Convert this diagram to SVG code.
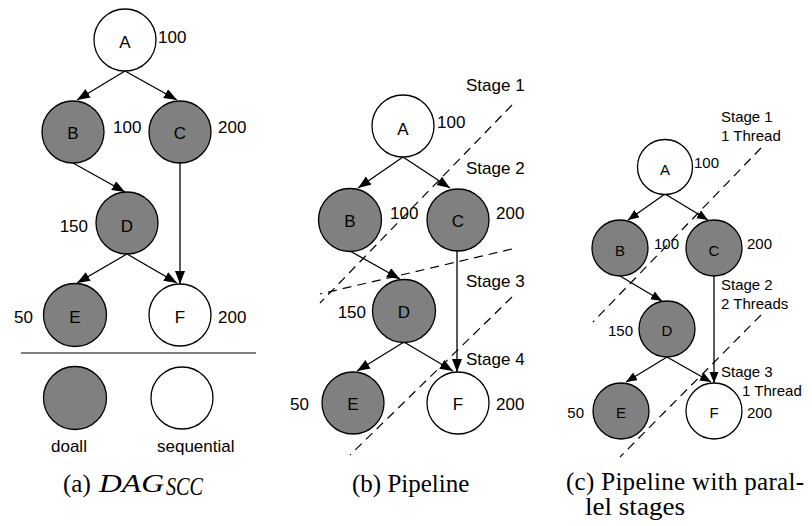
<svg xmlns="http://www.w3.org/2000/svg" width="812" height="526" viewBox="0 0 812 526">
  <style>
    .seq { fill: #ffffff; stroke: #000; stroke-width: 1.3; }
    .par { fill: #808080; stroke: #000; stroke-width: 1.3; }
    .edge { stroke: #000; stroke-width: 1.3; fill: none; }
    .stage { stroke: #000; stroke-width: 1.2; fill: none; stroke-dasharray: 9 6; }
    .lbl { font-family: "Liberation Sans", Arial, sans-serif; font-size: 17px; fill: #000; }
    .lbl-s { font-family: "Liberation Sans", Arial, sans-serif; font-size: 15px; fill: #000; }
    .mid { text-anchor: middle; }
    .end { text-anchor: end; }
    .cap { font-family: "Liberation Serif", "Times New Roman", serif; font-size: 25px; fill: #000; }
    .math { font-style: italic; }
  </style>
  <defs>
    <marker id="arr" markerUnits="userSpaceOnUse" markerWidth="14" markerHeight="11" refX="13" refY="5" orient="auto">
      <path d="M0,0 L13,5 L0,10 Z" fill="#000"/>
    </marker>
    <marker id="arr-s" markerUnits="userSpaceOnUse" markerWidth="12" markerHeight="10" refX="11" refY="4.5" orient="auto">
      <path d="M0,0 L11,4.5 L0,9 Z" fill="#000"/>
    </marker>
  </defs>

  <rect width="812" height="526" fill="#ffffff"/>

  <!-- (a) DAG of strongly connected components -->
  <g id="connectors-a">
    <line class="edge" x1="125" y1="71" x2="77" y2="100" marker-end="url(#arr)"/>
    <line class="edge" x1="125" y1="71" x2="177" y2="100" marker-end="url(#arr)"/>
    <line class="edge" x1="73" y1="163" x2="125" y2="192" marker-end="url(#arr)"/>
    <line class="edge" x1="180" y1="163" x2="180" y2="284" marker-end="url(#arr)"/>
    <line class="edge" x1="127" y1="254" x2="77" y2="283" marker-end="url(#arr)"/>
    <line class="edge" x1="127" y1="254" x2="177" y2="283" marker-end="url(#arr)"/>
  </g>
  <g id="a-node-A"><circle class="seq" cx="125" cy="40" r="31"/><text class="lbl mid" x="125" y="48">A</text><text class="lbl" x="158" y="43">100</text></g>
  <g id="a-node-B"><circle class="par" cx="73" cy="132" r="31"/><text class="lbl mid" x="73" y="139">B</text><text class="lbl" x="113" y="133">100</text></g>
  <g id="a-node-C"><circle class="par" cx="180" cy="132" r="31"/><text class="lbl mid" x="180" y="139">C</text><text class="lbl" x="218" y="133">200</text></g>
  <g id="a-node-D"><circle class="par" cx="127" cy="223" r="31"/><text class="lbl mid" x="127" y="232">D</text><text class="lbl end" x="88" y="232">150</text></g>
  <g id="a-node-E"><circle class="par" cx="75" cy="315" r="31.5"/><text class="lbl mid" x="75" y="323">E</text><text class="lbl end" x="33" y="323">50</text></g>
  <g id="a-node-F"><circle class="seq" cx="180" cy="315" r="31"/><text class="lbl mid" x="180" y="323">F</text><text class="lbl" x="218" y="323">200</text></g>
  <line x1="21" y1="353" x2="256" y2="353" stroke="#555" stroke-width="1.3"/>
  <g id="legend-doall"><circle class="par" cx="75" cy="398" r="31.5"/><text class="lbl" x="51" y="452">doall</text></g>
  <g id="legend-sequential"><circle class="seq" cx="182" cy="398" r="31"/><text class="lbl" x="157" y="452">sequential</text></g>
  <text class="cap" x="63" y="492">(a)</text>
  <text class="cap math" x="99" y="492" textLength="65" lengthAdjust="spacingAndGlyphs">DAG</text>
  <text class="cap math" x="166" y="495" font-size="18" textLength="37" lengthAdjust="spacingAndGlyphs">SCC</text>

  <!-- (b) Pipeline -->
  <g id="stages-b">
    <line class="stage" x1="512" y1="105" x2="320" y2="303"/>
    <line class="stage" x1="512" y1="249" x2="320" y2="294"/>
    <line class="stage" x1="512" y1="297" x2="350" y2="455"/>
    <text class="lbl" x="466" y="91">Stage 1</text>
    <text class="lbl" x="466" y="174">Stage 2</text>
    <text class="lbl" x="466" y="287">Stage 3</text>
    <text class="lbl" x="466" y="365">Stage 4</text>
  </g>
  <g id="connectors-b">
    <line class="edge" x1="403" y1="157" x2="358" y2="188" marker-end="url(#arr)"/>
    <line class="edge" x1="403" y1="157" x2="450" y2="188" marker-end="url(#arr)"/>
    <line class="edge" x1="350" y1="251" x2="400" y2="279" marker-end="url(#arr)"/>
    <line class="edge" x1="457" y1="251" x2="457" y2="372" marker-end="url(#arr)"/>
    <line class="edge" x1="404" y1="342" x2="357" y2="371" marker-end="url(#arr)"/>
    <line class="edge" x1="404" y1="342" x2="453" y2="371" marker-end="url(#arr)"/>
  </g>
  <g id="b-node-A"><circle class="seq" cx="403" cy="126" r="31"/><text class="lbl mid" x="403" y="135">A</text><text class="lbl" x="437" y="128">100</text></g>
  <g id="b-node-B"><circle class="par" cx="350" cy="220" r="31.5"/><text class="lbl mid" x="350" y="227">B</text><text class="lbl" x="390" y="219">100</text></g>
  <g id="b-node-C"><circle class="par" cx="458" cy="220" r="31"/><text class="lbl mid" x="458" y="227">C</text><text class="lbl" x="496" y="219">200</text></g>
  <g id="b-node-D"><circle class="par" cx="404" cy="311" r="31.5"/><text class="lbl mid" x="404" y="318">D</text><text class="lbl end" x="366" y="318">150</text></g>
  <g id="b-node-E"><circle class="par" cx="353" cy="403" r="31"/><text class="lbl mid" x="353" y="410">E</text><text class="lbl end" x="309" y="410">50</text></g>
  <g id="b-node-F"><circle class="seq" cx="458" cy="403" r="31"/><text class="lbl mid" x="458" y="410">F</text><text class="lbl" x="496" y="410">200</text></g>
  <text class="cap" x="352" y="492">(b) Pipeline</text>

  <!-- (c) Pipeline with parallel stages -->
  <g id="stages-c">
    <line class="stage" x1="761" y1="148" x2="593" y2="322"/>
    <line class="stage" x1="761" y1="315" x2="620" y2="457"/>
    <text class="lbl-s" x="721" y="122">Stage 1</text>
    <text class="lbl-s" x="721" y="141">1 Thread</text>
    <text class="lbl-s" x="721" y="290">Stage 2</text>
    <text class="lbl-s" x="721" y="309">2 Threads</text>
    <text class="lbl-s" x="721" y="377">Stage 3</text>
    <text class="lbl-s" x="742" y="396">1 Thread</text>
  </g>
  <g id="connectors-c">
    <line class="edge" x1="665" y1="194" x2="628" y2="220" marker-end="url(#arr-s)"/>
    <line class="edge" x1="665" y1="194" x2="708" y2="220" marker-end="url(#arr-s)"/>
    <line class="edge" x1="620" y1="276" x2="662" y2="301" marker-end="url(#arr-s)"/>
    <line class="edge" x1="714" y1="276" x2="714" y2="383" marker-end="url(#arr-s)"/>
    <line class="edge" x1="667" y1="357" x2="626" y2="382" marker-end="url(#arr-s)"/>
    <line class="edge" x1="667" y1="357" x2="711" y2="382" marker-end="url(#arr-s)"/>
  </g>
  <g id="c-node-A"><circle class="seq" cx="665" cy="167" r="27.5"/><text class="lbl-s mid" x="665" y="175">A</text><text class="lbl-s" x="694" y="168">100</text></g>
  <g id="c-node-B"><circle class="par" cx="620" cy="248" r="28"/><text class="lbl-s mid" x="620" y="256">B</text><text class="lbl-s" x="654" y="249">100</text></g>
  <g id="c-node-C"><circle class="par" cx="714" cy="248" r="28"/><text class="lbl-s mid" x="714" y="256">C</text><text class="lbl-s" x="747" y="249">200</text></g>
  <g id="c-node-D"><circle class="par" cx="667" cy="329" r="28"/><text class="lbl-s mid" x="667" y="336">D</text><text class="lbl-s end" x="633" y="336">150</text></g>
  <g id="c-node-E"><circle class="par" cx="621" cy="411" r="28"/><text class="lbl-s mid" x="621" y="418">E</text><text class="lbl-s end" x="584" y="418">50</text></g>
  <g id="c-node-F"><circle class="seq" cx="714" cy="411" r="28"/><text class="lbl-s mid" x="714" y="418">F</text><text class="lbl-s" x="747" y="418">200</text></g>
  <text class="cap" x="566" y="490" textLength="238" lengthAdjust="spacing">(c) Pipeline with paral-</text>
  <text class="cap" x="585" y="515" textLength="100" lengthAdjust="spacingAndGlyphs">lel stages</text>
</svg>
